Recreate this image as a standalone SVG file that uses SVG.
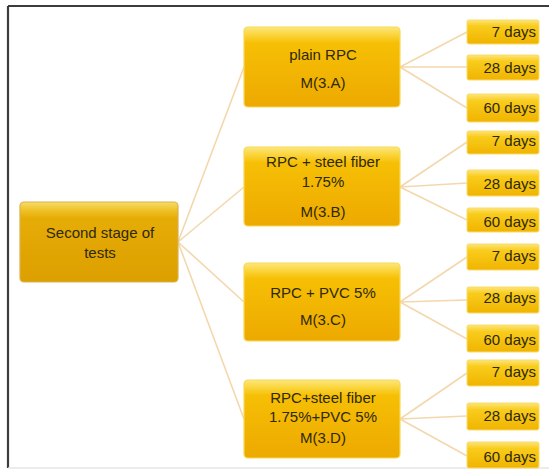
<svg xmlns="http://www.w3.org/2000/svg" width="549" height="474" viewBox="0 0 549 474">
  <defs>
    <linearGradient id="gMid" x1="0" y1="0" x2="0" y2="1">
      <stop offset="0" stop-color="#fde77e"/>
      <stop offset="0.1" stop-color="#fad43a"/>
      <stop offset="0.2" stop-color="#f6bf05"/>
      <stop offset="1" stop-color="#eda900"/>
    </linearGradient>
    <linearGradient id="gRoot" x1="0" y1="0" x2="0" y2="1">
      <stop offset="0" stop-color="#f6dc6a"/>
      <stop offset="0.1" stop-color="#efc22a"/>
      <stop offset="0.2" stop-color="#e6ac06"/>
      <stop offset="1" stop-color="#dc9f00"/>
    </linearGradient>
    <linearGradient id="gLeaf" x1="0" y1="0" x2="0" y2="1">
      <stop offset="0" stop-color="#fde57a"/>
      <stop offset="0.25" stop-color="#f9cc1c"/>
      <stop offset="1" stop-color="#f0b400"/>
    </linearGradient>
  </defs>
  <style>
    .mid { fill: url(#gMid); stroke: #f7d955; stroke-width: 1.2; }
    .root { fill: url(#gRoot); stroke: #d9b24a; stroke-width: 1.2; }
    .leaf { fill: url(#gLeaf); stroke: #f8dc6a; stroke-width: 1; }
    .t { font-family: "Liberation Sans", Arial, sans-serif; font-size: 15px; fill: #2e2908; text-anchor: middle; }
    .lt { font-family: "Liberation Sans", Arial, sans-serif; font-size: 15px; fill: #2e2908; text-anchor: end; }
    .c { stroke: #f3d8ad; stroke-width: 1.6; fill: none; }
  </style>
  <rect x="0" y="0" width="549" height="474" fill="#ffffff"/>
  <g id="frame">
    <line x1="8" y1="6" x2="549" y2="6" stroke="#3c3c3c" stroke-width="2.2"/>
    <line x1="8" y1="6" x2="8" y2="468" stroke="#3c3c3c" stroke-width="2.2"/>
    <line x1="8" y1="468" x2="549" y2="468" stroke="#e6e6e6" stroke-width="1.5"/>
  </g>
  <g id="connectors">
    <path class="c" d="M178 242 L244 67 M178 242 L244 187 M178 242 L244 302 M178 242 L244 419"/>
    <path class="c" d="M400 67 L467 32 M400 67 L467 67 M400 67 L467 108"/>
    <path class="c" d="M400 187 L467 142 M400 187 L467 183 M400 187 L467 220"/>
    <path class="c" d="M400 302 L467 257 M400 302 L467 300 M400 302 L467 339"/>
    <path class="c" d="M400 419 L467 373 M400 419 L467 416 M400 419 L467 456"/>
  </g>
  <g id="root">
    <rect class="root" x="20" y="202" width="158" height="80" rx="4"/>
    <text class="t" x="100" y="238">Second stage of</text>
    <text class="t" x="100" y="258">tests</text>
  </g>
  <g id="nodeA">
    <rect class="mid" x="244" y="27" width="156" height="80" rx="4"/>
    <text class="t" x="323" y="60">plain RPC</text>
    <text class="t" x="323" y="88">M(3.A)</text>
  </g>
  <g id="nodeB">
    <rect class="mid" x="244" y="147" width="156" height="79" rx="4"/>
    <text class="t" x="323" y="167">RPC + steel fiber</text>
    <text class="t" x="323" y="187">1.75%</text>
    <text class="t" x="323" y="217">M(3.B)</text>
  </g>
  <g id="nodeC">
    <rect class="mid" x="244" y="263" width="156" height="78" rx="4"/>
    <text class="t" x="323" y="298">RPC + PVC 5%</text>
    <text class="t" x="323" y="325">M(3.C)</text>
  </g>
  <g id="nodeD">
    <rect class="mid" x="244" y="380" width="156" height="78" rx="4"/>
    <text class="t" x="323" y="403">RPC+steel fiber</text>
    <text class="t" x="323" y="422">1.75%+PVC 5%</text>
    <text class="t" x="323" y="443">M(3.D)</text>
  </g>
  <g id="leafA1"><rect class="leaf" x="467" y="20" width="72" height="24" rx="2"/><text class="lt" x="536" y="37">7 days</text></g>
  <g id="leafA2"><rect class="leaf" x="467" y="55" width="72" height="25" rx="2"/><text class="lt" x="536" y="73">28 days</text></g>
  <g id="leafA3"><rect class="leaf" x="467" y="94" width="72" height="28" rx="2"/><text class="lt" x="536" y="113">60 days</text></g>
  <g id="leafB1"><rect class="leaf" x="467" y="131" width="72" height="23" rx="2"/><text class="lt" x="536" y="146">7 days</text></g>
  <g id="leafB2"><rect class="leaf" x="467" y="170" width="72" height="26" rx="2"/><text class="lt" x="536" y="189">28 days</text></g>
  <g id="leafB3"><rect class="leaf" x="467" y="208" width="72" height="24" rx="2"/><text class="lt" x="536" y="227">60 days</text></g>
  <g id="leafC1"><rect class="leaf" x="467" y="244" width="72" height="26" rx="2"/><text class="lt" x="536" y="261">7 days</text></g>
  <g id="leafC2"><rect class="leaf" x="467" y="287" width="72" height="26" rx="2"/><text class="lt" x="536" y="303">28 days</text></g>
  <g id="leafC3"><rect class="leaf" x="467" y="325" width="72" height="27" rx="2"/><text class="lt" x="536" y="345">60 days</text></g>
  <g id="leafD1"><rect class="leaf" x="467" y="360" width="72" height="26" rx="2"/><text class="lt" x="536" y="377">7 days</text></g>
  <g id="leafD2"><rect class="leaf" x="467" y="403" width="72" height="27" rx="2"/><text class="lt" x="536" y="421">28 days</text></g>
  <g id="leafD3"><rect class="leaf" x="467" y="442" width="72" height="26" rx="2"/><text class="lt" x="536" y="462">60 days</text></g>
</svg>
